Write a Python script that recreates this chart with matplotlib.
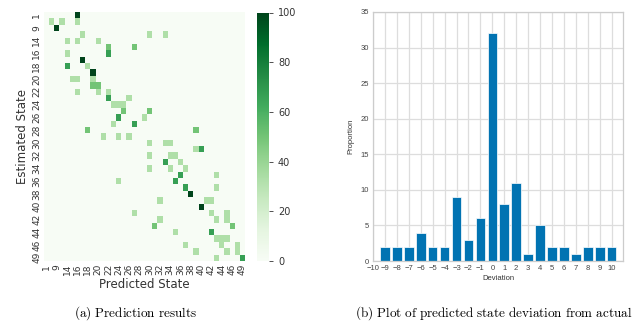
import numpy as np
import pandas as pd
import matplotlib
matplotlib.use('Agg')
import matplotlib.pyplot as plt
import seaborn as sns

# state labels (only every second one is drawn on the axes)
states = [1, 5, 9, 12] + list(range(14, 47)) + [47, 49]

# non-zero cells of the prediction matrix (row = estimated, col = predicted), in %
cell_rows = [0, 1, 1, 1, 2, 3, 3, 3, 4, 4, 4, 5, 5, 6, 6, 7, 8, 8, 9, 10, 10, 10,
             11, 11, 12, 12, 12, 13, 13, 14, 14, 14, 15, 15, 16, 16, 17, 17, 18, 18,
             19, 19, 19, 20, 20, 20, 21, 21, 22, 22, 22, 23, 23, 24, 24, 24, 25, 25,
             26, 26, 27, 27, 28, 29, 29, 29, 30, 31, 31, 31, 32, 32, 32, 33, 33, 34, 34,
             35, 35, 35, 36, 36, 36, 37, 37, 37, 38, 38]
cell_cols = [6, 1, 3, 6, 2, 7, 20, 23, 4, 6, 10, 12, 17, 4, 12, 7, 4, 8, 9, 5, 6, 9,
             9, 10, 6, 10, 12, 12, 16, 13, 14, 15, 15, 20, 14, 19, 13, 17, 8, 29,
             11, 14, 16, 20, 23, 24, 29, 30, 20, 24, 25, 23, 26, 20, 24, 27, 26, 33,
             14, 25, 27, 33, 28, 22, 31, 32, 30, 17, 32, 35, 22, 33, 35, 21, 36, 25, 32,
             33, 34, 35, 27, 34, 37, 29, 35, 37, 33, 38]
cell_vals = [100, 33, 33, 33, 100, 33, 33, 33, 33, 33, 33, 50, 50, 33, 67, 100, 67, 33, 100, 33, 33, 33,
             50, 50, 33, 33, 33, 67, 33, 33, 33, 33, 50, 50, 67, 33, 33, 67, 50, 50,
             33, 33, 33, 33, 33, 33, 33, 67, 33, 33, 33, 67, 33, 33, 33, 33, 67, 33,
             33, 67, 67, 33, 100, 33, 33, 33, 100, 33, 33, 33, 33, 33, 33, 50, 50, 33, 67,
             33, 33, 33, 33, 33, 33, 33, 33, 33, 33, 67]

# deviation histogram
deviation = [-9, -8, -7, -6, -5, -4, -3, -2, -1, 0, 1, 2, 3, 4, 5, 6, 7, 8, 9, 10]
proportion = [2, 2, 2, 4, 2, 2, 9, 3, 6, 32, 8, 11, 1, 5, 2, 2, 1, 2, 2, 2]


W, H = 635, 323
fig = plt.figure(figsize=(W / 100, H / 100), dpi=100)
plt.rcParams['mathtext.fontset'] = 'cm'

def box(x0, y0, x1, y1):
    return [x0 / W, 1 - y1 / H, (x1 - x0) / W, (y1 - y0) / H]

# ---- (a) heatmap
mat = np.zeros((len(states), len(states)))
for r, c, v in zip(cell_rows, cell_cols, cell_vals):
    mat[r, c] = v
df = pd.DataFrame(mat, index=states, columns=states)

ax = fig.add_axes(box(44, 12, 245, 261))
cax = fig.add_axes(box(257, 12.5, 269, 261))
sns.heatmap(df, ax=ax, cbar_ax=cax, cmap='Greens', vmin=0, vmax=100,
            xticklabels=2, yticklabels=2)
ax.tick_params(length=0, labelsize=6.5, colors='#333333', pad=2)
plt.setp(ax.get_xticklabels(), rotation=90)
plt.setp(ax.get_yticklabels(), rotation=90, va='center')
ax.set_xlabel('Predicted State', fontsize=8.5, color='#333333', labelpad=2)
ax.set_ylabel('Estimated State', fontsize=8.5, color='#333333', labelpad=2)
cax.tick_params(labelsize=7, colors='#333333', length=3, width=0.6)
for t in cax.get_yticklabels():
    t.set_color('#333333')

# ---- (b) deviation bars
bx = fig.add_axes(box(373, 12, 623, 261))
bx.set_axisbelow(True)
bx.grid(True, color='#dddddd', linewidth=0.9)
bx.bar(deviation, proportion, width=0.8, color='#0173b2', edgecolor='white', linewidth=0.5)
bx.set_xticks(range(-10, 11))
bx.set_yticks(range(0, 36, 5))
bx.set_xlim(-10, 10.95)
bx.set_ylim(0, 35)
for s in bx.spines.values():
    s.set_color('#cccccc')
    s.set_linewidth(0.9)
bx.tick_params(length=0, labelsize=5.5, colors='#444444', pad=3)
for t in bx.get_xticklabels() + bx.get_yticklabels():
    t.set_family('Liberation Sans')
bx.set_xlabel('Deviation', fontsize=5.5, family='Liberation Sans', color='#333333', labelpad=2)
bx.set_ylabel('Proportion', fontsize=5.5, family='Liberation Sans', color='#333333', labelpad=4)

# ---- captions
fig.text(136 / W, 1 - 313 / H, r'$\mathrm{(a)\ Prediction\ results}$',
         ha='center', va='center', fontsize=9.5)
fig.text(494 / W, 1 - 313 / H, r'$\mathrm{(b)\ Plot\ of\ predicted\ state\ deviation\ from\ actual}$',
         ha='center', va='center', fontsize=9.5)

fig.savefig('out.png', dpi=100)
